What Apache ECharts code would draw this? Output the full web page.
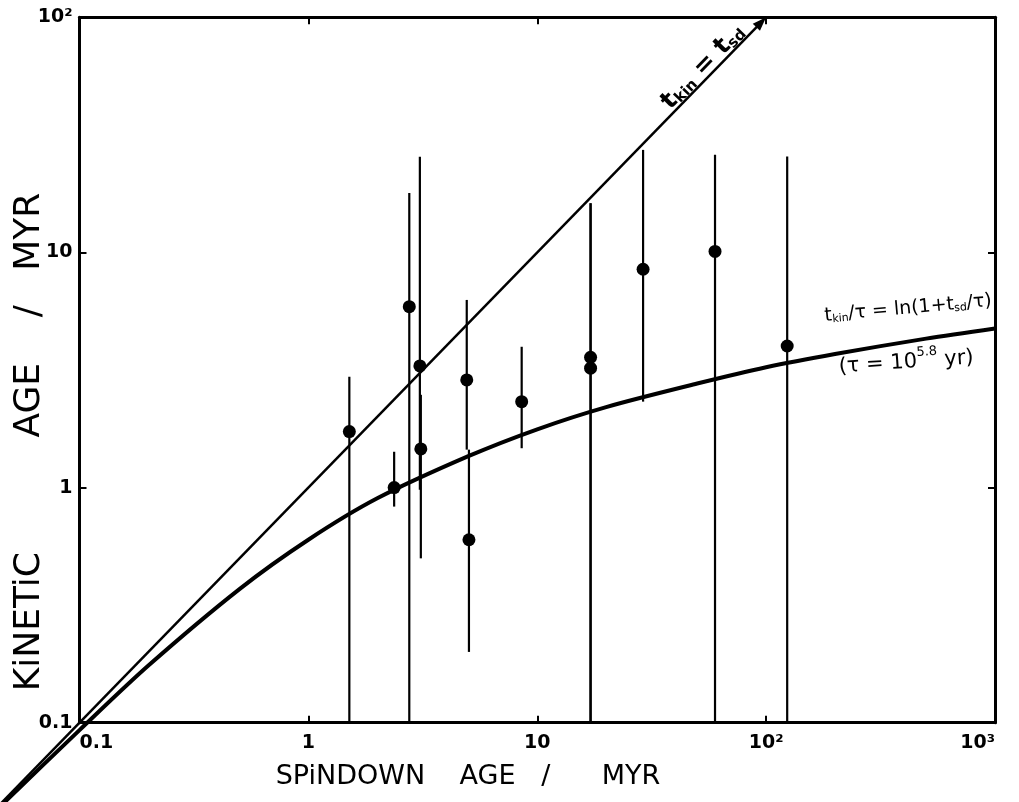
<!DOCTYPE html>
<html><head><meta charset="utf-8">
<script src="https://cdn.jsdelivr.net/npm/echarts@6/dist/echarts.min.js"></script>
<style>html,body{margin:0;padding:0;background:#fff}#c{width:1019px;height:802px}</style>
</head><body><div id="c"></div>
<script>
// Observed pulsars: spindown age (Myr), kinetic age (Myr), error bar limits
const spindownAge = [1.51, 2.37, 2.76, 3.07, 3.10, 4.92, 5.03, 8.55, 17.1, 17.1, 29.0, 59.8, 123.6];
const kineticAge  = [1.73, 1.00, 5.88, 3.29, 1.46, 2.87, 0.60, 2.32, 3.58, 3.22, 8.48, 10.1, 4.00];
const errLow      = [0.1, 0.83, 0.1, 0.98, 0.50, 1.45, 0.20, 1.47, 0.1, 0.1, 2.32, 0.1, 0.1];
const errHigh     = [2.96, 1.42, 17.9, 25.5, 2.48, 6.28, 1.45, 3.97, 16.2, 16.2, 27.3, 26.0, 25.6];
// t_kin = t_sd line
const equalX = [0.045, 100];
const equalY = [0.045, 100];
// model curve t_kin/tau = ln(1 + t_sd/tau)
const curveX = [0.045, 0.1, 0.2, 0.5, 1, 2, 5, 10, 20, 50, 100, 200, 500, 1000];
const curveY = [0.044, 0.093, 0.175, 0.37, 0.6, 0.9, 1.36, 1.77, 2.2, 2.77, 3.25, 3.7, 4.3, 4.75];
// tick labels by decade exponent
const xTickLabels = {'-1':'0.1','0':'1','1':'10','2':'10²','3':'10³'};
const yTickLabels = {'-1':'0.1','0':'1','1':'10','2':'10²'};

const FONT = '"DejaVu Sans", sans-serif';
const chart = echarts.init(document.getElementById('c'), null, {renderer:'canvas'});
const axisCommon = {
  type:'log', logBase:10,
  axisLine:{show:true, lineStyle:{color:'#000', width:3}},
  axisTick:{show:true, inside:true, length:7, lineStyle:{color:'#000', width:2}},
  splitLine:{show:false}, minorTick:{show:false}, minorSplitLine:{show:false}
};
const lbl = (map) => ({
  show:true, color:'#000', fontFamily:FONT, fontWeight:'bold', fontSize:19,
  formatter: v => map[String(Math.round(Math.log10(v)))] || ''
});
const option = {
  animation:false,
  backgroundColor:'#fff',
  grid:{left:79.5, right:24, top:17.3, bottom:79.3, containLabel:false},
  xAxis:[
    Object.assign({}, axisCommon, {position:'bottom', min:0.1, max:1000,
      axisLabel:Object.assign(lbl(xTickLabels),{margin:11, alignMinLabel:'left', alignMaxLabel:'right'})}),
    Object.assign({}, axisCommon, {position:'top', min:0.1, max:1000, axisLabel:{show:false}})
  ],
  yAxis:[
    Object.assign({}, axisCommon, {position:'left', min:0.1, max:100, axisLabel:Object.assign(lbl(yTickLabels),{margin:7})}),
    Object.assign({}, axisCommon, {position:'right', min:0.1, max:100, axisLabel:{show:false}})
  ],
  series:[
    {
      type:'custom', name:'t_kin = t_sd', clip:false,
      data:[[equalX[0], equalY[0]]], encode:{x:0, y:1},
      renderItem:(params, api)=>{
        const pts = equalX.map((x,i)=>api.coord([x, equalY[i]]));
        const a = pts[pts.length-2], b = pts[pts.length-1];
        const dx = b[0]-a[0], dy = b[1]-a[1], L = Math.hypot(dx,dy);
        const ux = dx/L, uy = dy/L, nx = -uy, ny = ux;
        const bx = b[0]-ux*14, by = b[1]-uy*14;
        return {type:'group', children:[
          {type:'polyline', shape:{points:pts.slice(0,-1).concat([[b[0]-ux*6, b[1]-uy*6]])}, style:{stroke:'#000', fill:null, lineWidth:2.5}},
          {type:'polygon', shape:{points:[[b[0],b[1]],[bx+nx*5,by+ny*5],[bx-nx*5,by-ny*5]]}, style:{fill:'#000'}}
        ]};
      }, z:2
    },
    {
      type:'custom', name:'model', clip:false,
      data:[[curveX[0], curveY[0]]], encode:{x:0, y:1},
      renderItem:(params, api)=>({
        type:'polyline',
        shape:{points: curveX.map((x,i)=>api.coord([x, curveY[i]])), smooth:0.3},
        style:{stroke:'#000', fill:null, lineWidth:4}
      }), z:2
    },
    {
      type:'custom', name:'errors',
      data: spindownAge.map((x,i)=>[x, errLow[i], errHigh[i]]),
      encode:{x:0, y:[1,2]},
      renderItem:(params, api)=>{
        const x = api.value(0), lo = api.value(1), hi = api.value(2);
        const p1 = api.coord([x, lo]), p2 = api.coord([x, hi]);
        return {type:'line', shape:{x1:p1[0], y1:p1[1], x2:p2[0], y2:p2[1]}, style:{stroke:'#000', lineWidth:2.2}};
      }, z:3
    },
    {
      type:'scatter', name:'pulsars', symbol:'circle', symbolSize:13,
      data: spindownAge.map((x,i)=>[x, kineticAge[i]]),
      itemStyle:{color:'#000', opacity:1}, z:4
    }
  ],
  graphic:[
    {type:'text', x:468, y:777, style:{text:'SPiNDOWN    AGE   /      MYR', font:'27px '+FONT, fill:'#000', textAlign:'center', textVerticalAlign:'middle'}},
    {type:'text', x:30, y:442, rotation:Math.PI/2, style:{text:'KiNETiC          AGE    /   MYR', font:'36px '+FONT, fill:'#000', textAlign:'center', textVerticalAlign:'middle'}},
    {type:'text', x:702, y:66, rotation:0.80, style:{
      text:'{t|t}{s|kin}{t| = t}{s|sd}', textAlign:'center', textVerticalAlign:'middle', fill:'#000',
      rich:{t:{fontSize:25, fontWeight:'bold', fontFamily:FONT, lineHeight:28, verticalAlign:'bottom'}, s:{fontSize:15, fontWeight:'bold', fontFamily:FONT, lineHeight:15, verticalAlign:'bottom'}}}},
    {type:'text', x:908, y:306, rotation:0.09, style:{
      text:'{t|t}{s|kin}{t|/τ = ln(1+t}{s|sd}{t|/τ)}', textAlign:'center', textVerticalAlign:'middle', fill:'#000',
      rich:{t:{fontSize:19, fontFamily:FONT, lineHeight:24, verticalAlign:'bottom'}, s:{fontSize:11, fontFamily:FONT, lineHeight:12, verticalAlign:'bottom'}}}},
    {type:'text', x:906, y:360, rotation:0.07, style:{
      text:'{t|(τ = 10}{p|5.8}{t| yr)}', textAlign:'center', textVerticalAlign:'middle', fill:'#000',
      rich:{t:{fontSize:21, fontFamily:FONT, lineHeight:26, verticalAlign:'bottom'}, p:{fontSize:13, fontFamily:FONT, lineHeight:26, verticalAlign:'top'}}}}
  ]
};
chart.setOption(option);
</script>
</body></html>
